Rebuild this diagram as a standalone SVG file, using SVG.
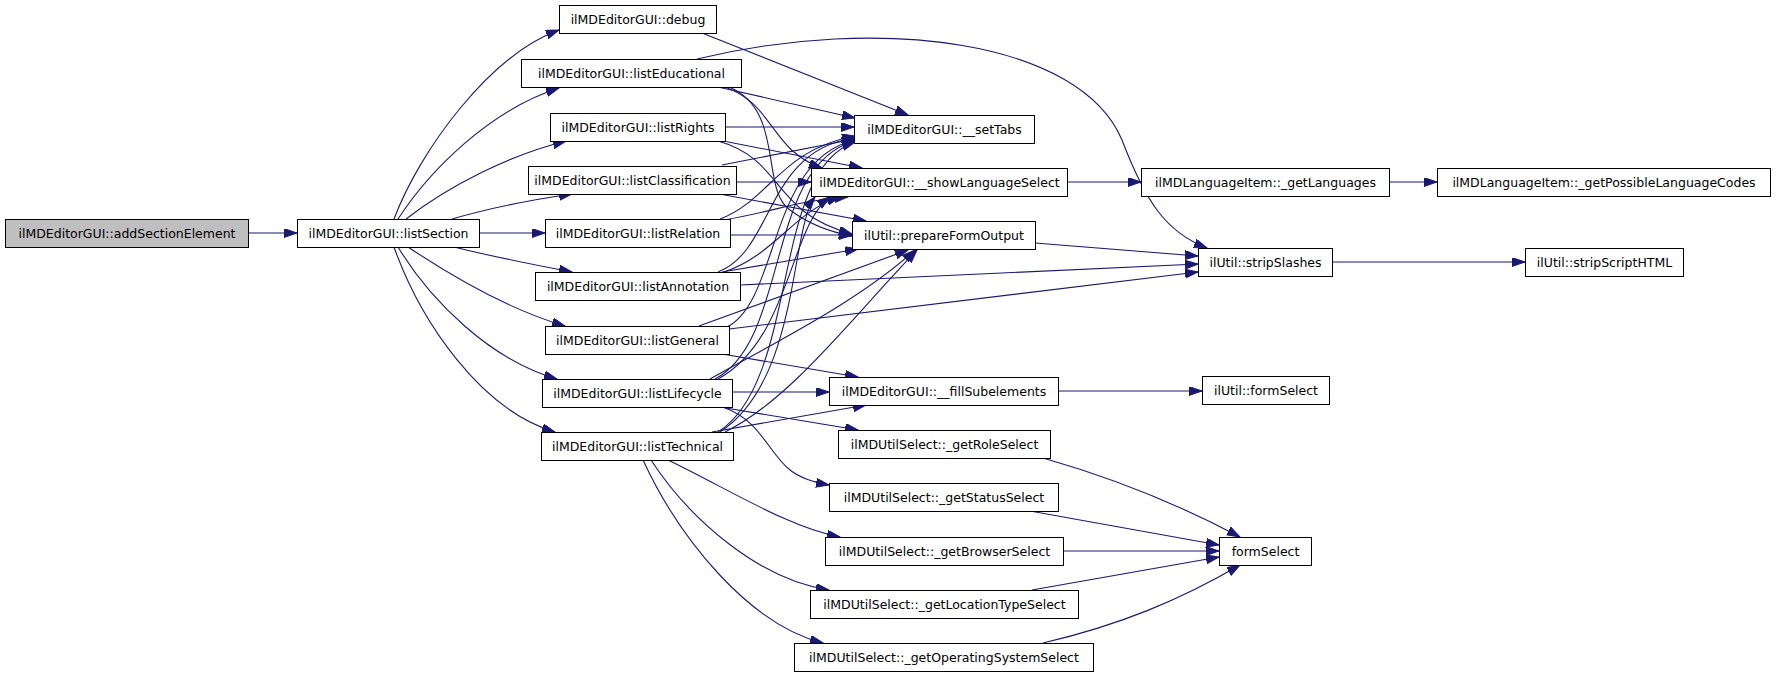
<svg xmlns="http://www.w3.org/2000/svg" width="1776" height="677" viewBox="0 0 1776 677">
<style>
.node rect{fill:#fff;stroke:#000;stroke-width:1}
.node.root rect{fill:#bfbfbf}
.node text{font-family:"DejaVu Sans","Liberation Sans",sans-serif;font-size:12.5px;text-anchor:middle;fill:#000}
.edges path{fill:none;stroke:#191970;stroke-width:1.1;marker-end:url(#ah)}
</style>
<defs>
<marker id="ah" markerUnits="userSpaceOnUse" markerWidth="14" markerHeight="10" refX="13" refY="4.5" orient="auto" viewBox="0 0 14 10">
<path d="M0,0 L13,4.5 L0,9 z" fill="#191970" stroke="#191970" stroke-width="1"/>
</marker>
</defs>
<rect width="1776" height="677" fill="#fff"/>
<g class="edges">
<path d="M248,233 L297,233"/>
<path d="M394,219 C420,150 490,55 559,30"/>
<path d="M398,219 C430,170 490,110 559,88"/>
<path d="M406,219 C450,185 510,155 566,141"/>
<path d="M452,219 C490,208 530,200 572,194"/>
<path d="M479,233 L545,233"/>
<path d="M454,247 C490,256 530,264 572,272"/>
<path d="M408,247 C450,275 510,310 565,326"/>
<path d="M398,247 C430,300 490,360 557,379"/>
<path d="M394,247 C420,320 480,410 555,432"/>
<path d="M702,33 L908,115"/>
<path d="M697,59 C880,15 1080,40 1122,140 C1145,200 1165,232 1207,248"/>
<path d="M718,87 L855,118"/>
<path d="M725,87 C775,105 770,150 822,168"/>
<path d="M729,87 C785,110 760,190 790,210 C810,225 830,232 852,236"/>
<path d="M725,127 L854,127"/>
<path d="M718,140 L862,168"/>
<path d="M718,141 C785,160 770,212 852,234"/>
<path d="M722,165 L855,139"/>
<path d="M736,182 L811,182"/>
<path d="M714,193 L866,221"/>
<path d="M720,219 C770,200 780,150 855,136"/>
<path d="M724,220 C780,210 800,200 848,197"/>
<path d="M730,235 L852,235"/>
<path d="M722,272 L858,249"/>
<path d="M740,285 L1198,264"/>
<path d="M718,272 C775,250 765,150 855,138"/>
<path d="M724,272 C775,255 795,210 840,197"/>
<path d="M699,326 L908,250"/>
<path d="M729,329 L1198,272"/>
<path d="M722,354 L858,377"/>
<path d="M727,327 C780,300 768,160 855,140"/>
<path d="M715,379 C790,340 765,165 855,141"/>
<path d="M718,379 C790,340 790,225 830,197"/>
<path d="M732,392 L829,392"/>
<path d="M710,379 C780,340 860,300 915,250"/>
<path d="M720,407 L858,430"/>
<path d="M725,408 C760,420 770,455 790,470 C800,478 812,482 829,485"/>
<path d="M712,432 L866,405"/>
<path d="M725,432 C790,400 850,320 917,250"/>
<path d="M718,432 C800,380 770,170 855,142"/>
<path d="M720,432 C800,380 790,228 815,197"/>
<path d="M668,460 C730,490 790,528 840,537"/>
<path d="M651,460 C690,520 760,580 829,590"/>
<path d="M643,460 C680,540 750,625 823,643"/>
<path d="M1067,182 L1141,182"/>
<path d="M1389,182 L1437,182"/>
<path d="M1035,243 L1198,256"/>
<path d="M1332,262 L1525,262"/>
<path d="M1058,391 L1202,391"/>
<path d="M1043,458 C1120,480 1180,505 1240,537"/>
<path d="M1030,511 L1219,545"/>
<path d="M1063,551 L1219,551"/>
<path d="M1032,590 L1219,557"/>
<path d="M1043,643 C1120,625 1180,600 1240,565"/>
</g>
<g id="n0" class="node root"><rect x="5.5" y="219.5" width="243" height="28"/><text x="127" y="237.5">ilMDEditorGUI::addSectionElement</text></g>
<g id="n1" class="node"><rect x="297.5" y="219.5" width="182" height="28"/><text x="388.5" y="237.5">ilMDEditorGUI::listSection</text></g>
<g id="n2" class="node"><rect x="559.5" y="5.5" width="157" height="28"/><text x="638" y="23.5">ilMDEditorGUI::debug</text></g>
<g id="n3" class="node"><rect x="521.5" y="59.5" width="220" height="28"/><text x="631.5" y="77.5">ilMDEditorGUI::listEducational</text></g>
<g id="n4" class="node"><rect x="550.5" y="113.5" width="175" height="28"/><text x="638" y="131.5">ilMDEditorGUI::listRights</text></g>
<g id="n5" class="node"><rect x="528.5" y="166.5" width="208" height="28"/><text x="632.5" y="184.5">ilMDEditorGUI::listClassification</text></g>
<g id="n6" class="node"><rect x="545.5" y="219.5" width="185" height="28"/><text x="638" y="237.5">ilMDEditorGUI::listRelation</text></g>
<g id="n7" class="node"><rect x="535.5" y="272.5" width="205" height="28"/><text x="638" y="290.5">ilMDEditorGUI::listAnnotation</text></g>
<g id="n8" class="node"><rect x="545.5" y="326.5" width="184" height="28"/><text x="637.5" y="344.5">ilMDEditorGUI::listGeneral</text></g>
<g id="n9" class="node"><rect x="542.5" y="379.5" width="190" height="28"/><text x="637.5" y="397.5">ilMDEditorGUI::listLifecycle</text></g>
<g id="n10" class="node"><rect x="541.5" y="432.5" width="192" height="28"/><text x="637.5" y="450.5">ilMDEditorGUI::listTechnical</text></g>
<g id="n11" class="node"><rect x="854.5" y="115.5" width="180" height="28"/><text x="944.5" y="133.5">ilMDEditorGUI::__setTabs</text></g>
<g id="n12" class="node"><rect x="811.5" y="168.5" width="256" height="28"/><text x="939.5" y="186.5">ilMDEditorGUI::__showLanguageSelect</text></g>
<g id="n13" class="node"><rect x="852.5" y="221.5" width="183" height="28"/><text x="944" y="239.5">ilUtil::prepareFormOutput</text></g>
<g id="n14" class="node"><rect x="829.5" y="377.5" width="229" height="28"/><text x="944" y="395.5">ilMDEditorGUI::__fillSubelements</text></g>
<g id="n15" class="node"><rect x="838.5" y="430.5" width="212" height="28"/><text x="944.5" y="448.5">ilMDUtilSelect::_getRoleSelect</text></g>
<g id="n16" class="node"><rect x="829.5" y="483.5" width="229" height="28"/><text x="944" y="501.5">ilMDUtilSelect::_getStatusSelect</text></g>
<g id="n17" class="node"><rect x="825.5" y="537.5" width="238" height="28"/><text x="944.5" y="555.5">ilMDUtilSelect::_getBrowserSelect</text></g>
<g id="n18" class="node"><rect x="810.5" y="590.5" width="268" height="28"/><text x="944.5" y="608.5">ilMDUtilSelect::_getLocationTypeSelect</text></g>
<g id="n19" class="node"><rect x="794.5" y="643.5" width="299" height="28"/><text x="944" y="661.5">ilMDUtilSelect::_getOperatingSystemSelect</text></g>
<g id="n20" class="node"><rect x="1141.5" y="168.5" width="248" height="28"/><text x="1265.5" y="186.5">ilMDLanguageItem::_getLanguages</text></g>
<g id="n21" class="node"><rect x="1437.5" y="168.5" width="333" height="28"/><text x="1604" y="186.5">ilMDLanguageItem::_getPossibleLanguageCodes</text></g>
<g id="n22" class="node"><rect x="1198.5" y="248.5" width="134" height="28"/><text x="1265.5" y="266.5">ilUtil::stripSlashes</text></g>
<g id="n23" class="node"><rect x="1525.5" y="248.5" width="158" height="28"/><text x="1604.5" y="266.5">ilUtil::stripScriptHTML</text></g>
<g id="n24" class="node"><rect x="1202.5" y="376.5" width="127" height="28"/><text x="1266" y="394.5">ilUtil::formSelect</text></g>
<g id="n25" class="node"><rect x="1219.5" y="537.5" width="92" height="28"/><text x="1265.5" y="555.5">formSelect</text></g>
</svg>
